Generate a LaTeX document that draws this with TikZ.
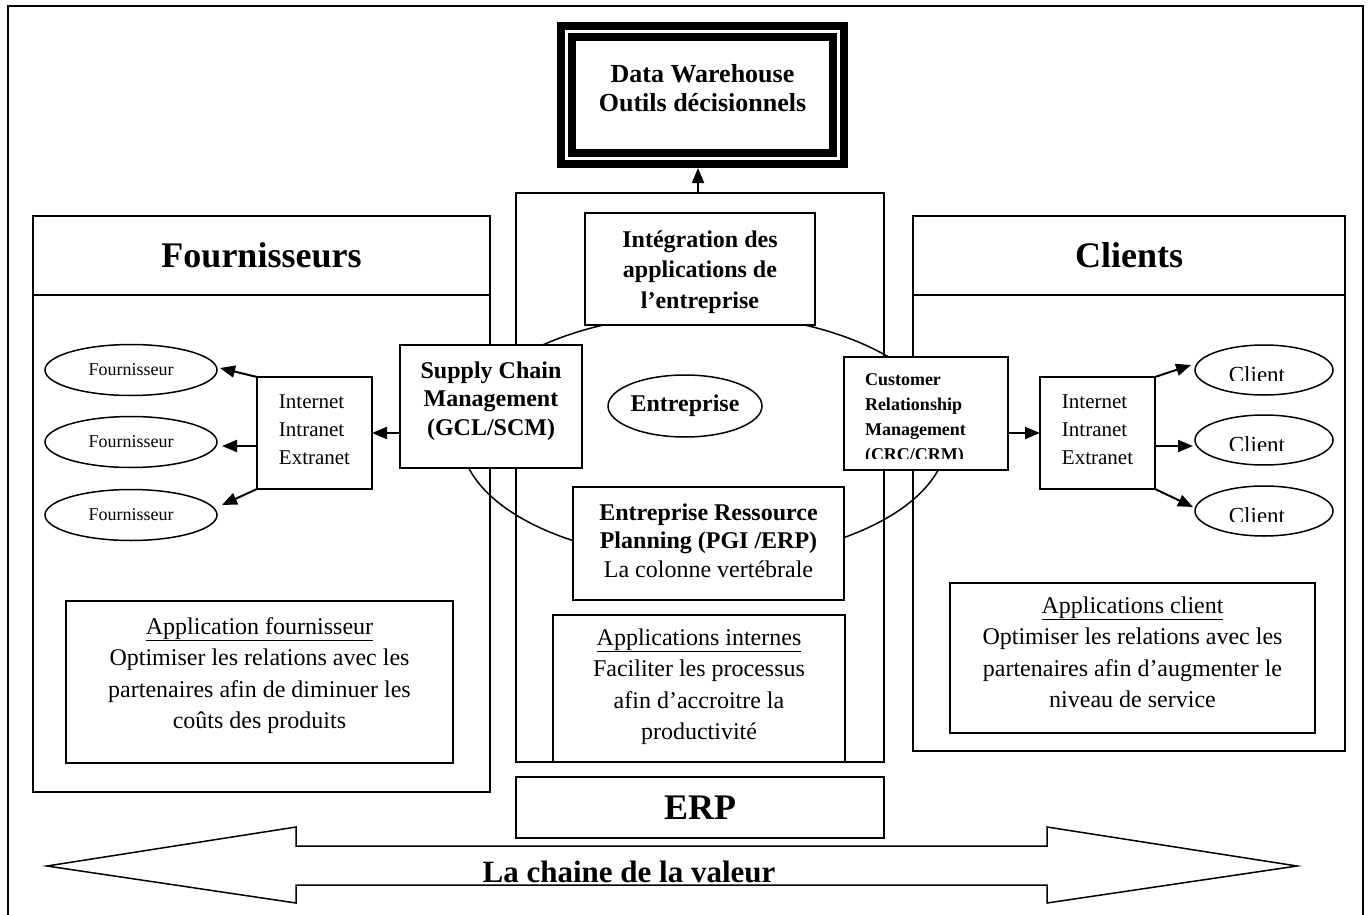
\documentclass[tikz,border=0pt]{standalone}
\usepackage{fontspec}
\setmainfont{Liberation Serif}
\usetikzlibrary{arrows.meta,calc,shapes.geometric}
\newcommand\mytab[2]{\begin{tabular}[t]{@{}#1@{}}#2\end{tabular}}
\begin{document}
\begin{tikzpicture}[x=1pt,y=-1pt,line width=1.5pt,
  obox/.style={draw,rectangle,inner sep=0,outer sep=0},
  wbox/.style={obox,fill=white},
  ell/.style={draw,ellipse,inner sep=0,outer sep=0,fill=white},
  txt/.style={inner sep=0,outer sep=0,anchor=base,align=center},
  bodyfont/.style={font=\fontsize{24}{31.5}\selectfont},
  boldfont/.style={font=\bfseries\fontsize{24}{28.5}\selectfont},
  bigfont/.style={font=\bfseries\fontsize{36}{40}\selectfont},
  arr/.style={-{Triangle[length=15pt,width=12pt]},line width=2pt}]
\clip (0,0) rectangle (1371,915);
% outer frame
\draw (8,6) rectangle (1363,940);
% panels and column
\node[obox,minimum width=457,minimum height=576] (lp) at (261.5,504) {};
\draw (33,295) -- (490,295);
\node[obox,minimum width=432,minimum height=535] (rp) at (1129,483.5) {};
\draw (913,295) -- (1345,295);
\node[obox,minimum width=368,minimum height=569] (col) at (700,477.5) {};
\node[inner sep=0,bigfont] (fourt) at (261.5,255.5) {Fournisseurs};
\node[inner sep=0,bigfont] (clit) at (1129,255.5) {Clients};
% data warehouse
\node[draw,rectangle,line width=8pt,double,double distance=3pt,inner sep=0,outer sep=9.5pt,
      minimum width=272,minimum height=127] (dw) at (702.5,95) {};
\node[txt,font=\bfseries\fontsize{26}{29}\selectfont] (dwt) at (702.5,83) {\mytab{c}{Data Warehouse\\Outils décisionnels}};
\coordinate (coltop) at (698,193);
\draw[arr] (coltop) -- (coltop |- dw.south);
% big ellipse
\node[draw,ellipse,inner sep=0,minimum width=486,minimum height=246] (bigell) at (704,437) {};
% center boxes
\node[wbox,minimum width=230,minimum height=112] (integ) at (700,269) {};
\node[txt,boldfont,font=\bfseries\fontsize{24}{30.5}\selectfont] (integt) at (700,247) {\mytab{c}{Intégration des\\applications de\\l’entreprise}};
\node[wbox,minimum width=182,minimum height=123] (sc) at (491,406.5) {};
\node[txt,boldfont] (sct) at (491,378) {\mytab{c}{Supply Chain\\Management\\(GCL/SCM)}};
\node[ell,minimum width=146,minimum height=62,boldfont] (ent) at (685,406) {Entreprise};
\node[wbox,minimum width=164,minimum height=113] (crm) at (926,413.5) {};
\begin{scope}
\clip (844,357) rectangle (1008,458);
\node[inner sep=0,outer sep=0,anchor=base west,font=\bfseries\fontsize{18}{25}\selectfont] (crmt) at (865,385) {\mytab{l}{Customer\\Relationship\\Management\\(CRC/CRM)}};
\end{scope}
\node[wbox,minimum width=271,minimum height=113] (pgi) at (708.5,543.5) {};
\node[txt,boldfont] (pgit) at (708.5,520) {\mytab{c}{\textbf{Entreprise Ressource}\\\textbf{Planning (PGI /ERP)}\\\mdseries La colonne vertébrale}};
\node[wbox,minimum width=292,minimum height=147] (appi) at (699,688.5) {};
\node[txt,bodyfont] (appit) at (699,645) {\mytab{c}{\underline{Applications internes}\\Faciliter les processus\\afin d’accroitre la\\productivité}};
% ERP box
\node[obox,minimum width=368,minimum height=61,bigfont] (erp) at (700,807.5) {ERP};
% left side
\node[obox,minimum width=115,minimum height=112] (iL) at (314.5,433) {};
\node[txt,font=\fontsize{21}{28}\selectfont] (iLt) at (314.5,408) {\mytab{l}{Internet\\Intranet\\Extranet}};
\node[ell,minimum width=172,minimum height=51,font=\fontsize{18}{22}\selectfont] (f1) at (131,370) {Fournisseur};
\node[ell,minimum width=172,minimum height=51,font=\fontsize{18}{22}\selectfont] (f2) at (131,442) {Fournisseur};
\node[ell,minimum width=172,minimum height=51,font=\fontsize{18}{22}\selectfont] (f3) at (131,515) {Fournisseur};
\draw[arr] (sc.west |- iL.east) -- (iL.east);
\draw[arr] (iL.north west) -- ($(f1.east)+(3,-2)$);
\draw[arr] ($(iL.west)+(0,13)$) -- ($(f2.east)+(5,4)$);
\draw[arr] (iL.south west) -- ($(f3.east)+(5,-10)$);
\node[obox,minimum width=387,minimum height=162] (appf) at (259.5,682) {};
\node[txt,bodyfont] (appft) at (259.5,634) {\mytab{c}{\underline{Application fournisseur}\\Optimiser les relations avec les\\partenaires afin de diminuer les\\coûts des produits}};
% right side
\node[obox,minimum width=115,minimum height=112] (iR) at (1097.5,433) {};
\node[txt,font=\fontsize{21}{28}\selectfont] (iRt) at (1097.5,408) {\mytab{l}{Internet\\Intranet\\Extranet}};
\node[ell,minimum width=138,minimum height=50] (c1) at (1264,370) {};
\node[ell,minimum width=138,minimum height=50] (c2) at (1264,440) {};
\node[ell,minimum width=138,minimum height=50] (c3) at (1264,511) {};
\begin{scope}
\clip (1190,340) rectangle (1340,380);
\node[txt,font=\fontsize{23}{27}\selectfont] (c1t) at (1257,382) {Client};
\end{scope}
\begin{scope}
\clip (1190,410) rectangle (1340,450);
\node[txt,font=\fontsize{23}{27}\selectfont] (c2t) at (1257,452) {Client};
\end{scope}
\begin{scope}
\clip (1190,481) rectangle (1340,521);
\node[txt,font=\fontsize{23}{27}\selectfont] (c3t) at (1257,523) {Client};
\end{scope}
\draw[arr] (crm.east |- iR.west) -- (iR.west);
\draw[arr] (iR.north east) -- ($(c1.west)+(-4,-5)$);
\draw[arr] ($(iR.east)+(0,13)$) -- ($(c2.west)+(-2,6)$);
\draw[arr] (iR.south east) -- ($(c3.west)+(-2,-4)$);
\node[obox,minimum width=365,minimum height=150] (appc) at (1132.5,658) {};
\node[txt,bodyfont] (appct) at (1132.5,613) {\mytab{c}{\underline{Applications client}\\Optimiser les relations avec les\\partenaires afin d’augmenter le\\niveau de service}};
% value chain double arrow
\draw (47,866) -- (296,827) -- (296,846) -- (1047,846) -- (1047,827) -- (1297,866)
      -- (1047,903) -- (1047,885) -- (296,885) -- (296,903) -- cycle;
\node[txt,font=\bfseries\fontsize{31}{35}\selectfont] (chain) at (629,882) {La chaine de la valeur};
\end{tikzpicture}
\end{document}
